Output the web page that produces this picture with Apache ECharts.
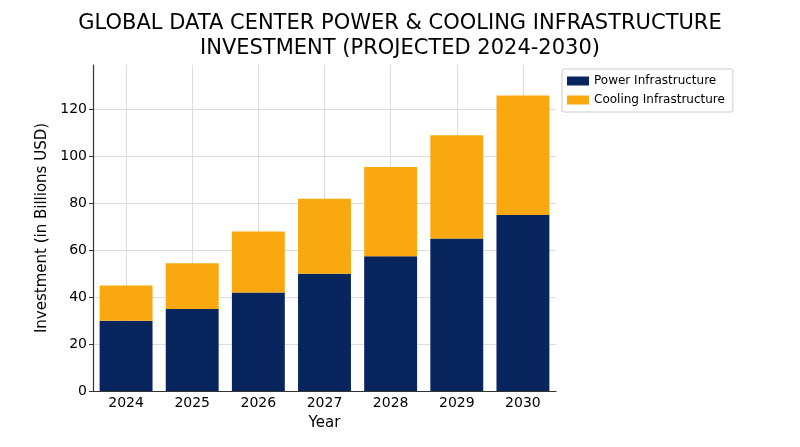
<!DOCTYPE html>
<html>
<head>
<meta charset="utf-8">
<script src="https://cdn.jsdelivr.net/npm/echarts@6/dist/echarts.min.js"></script>
<style>
  html, body { margin: 0; padding: 0; background: #fff; }
  #chart { width: 800px; height: 447px; }
</style>
</head>
<body>
<div id="chart"></div>
<script>
var years = ['2024', '2025', '2026', '2027', '2028', '2029', '2030'];
var powerInvest = [30, 35, 42, 50, 57.5, 65, 75];
var coolingInvest = [15, 19.5, 26, 32, 38, 44, 51];
var yTicks = [0, 20, 40, 60, 80, 100, 120];

var font = 'DejaVu Sans';
var chart = echarts.init(document.getElementById('chart'));

chart.setOption({
    animation: false,
    textStyle: { fontFamily: font },
    title: {
        text: 'GLOBAL DATA CENTER POWER & COOLING INFRASTRUCTURE\nINVESTMENT (PROJECTED 2024-2030)',
        left: 'center',
        top: 6,
        textStyle: { fontFamily: font, fontSize: 21, fontWeight: 'normal', color: '#000', lineHeight: 25 }
    },
    legend: {
        orient: 'vertical',
        left: 562,
        top: 69,
        icon: 'rect',
        itemWidth: 22,
        itemHeight: 9,
        itemGap: 7,
        padding: [6, 8, 6, 5],
        borderColor: '#ccc',
        borderWidth: 1,
        borderRadius: 2,
        textStyle: { fontFamily: font, fontSize: 12, color: '#000' },
        data: ['Power Infrastructure', 'Cooling Infrastructure']
    },
    grid: { left: 93, right: 244, top: 65, bottom: 56 },
    xAxis: {
        type: 'category',
        data: years,
        name: 'Year',
        nameLocation: 'middle',
        nameGap: 25,
        nameTextStyle: { fontFamily: font, fontSize: 15, color: '#000' },
        axisLine: { lineStyle: { color: '#333', width: 1.2 } },
        axisTick: { alignWithLabel: true, length: 4, lineStyle: { color: '#333' } },
        axisLabel: { fontFamily: font, fontSize: 14, color: '#000', margin: 5 },
        splitLine: { show: false }
    },
    yAxis: {
        type: 'value',
        min: 0,
        max: 139,
        interval: 20,
        name: 'Investment (in Billions USD)',
        nameLocation: 'middle',
        nameGap: 39,
        nameTextStyle: { fontFamily: font, fontSize: 15, color: '#000' },
        axisLine: { show: true, lineStyle: { color: '#333', width: 1.2 } },
        axisTick: { show: true, length: 4, customValues: yTicks, lineStyle: { color: '#333' } },
        axisLabel: {
            fontFamily: font, fontSize: 14, color: '#000', margin: 6,
            customValues: yTicks
        },
        splitLine: { lineStyle: { color: '#ddd' } }
    },
    series: [
        {
            // vertical grid lines through the category centres
            name: 'grid',
            type: 'line',
            data: [],
            z: 0,
            silent: true,
            markLine: {
                silent: true,
                z: 0,
                symbol: 'none',
                label: { show: false },
                lineStyle: { color: '#ddd', type: 'solid', width: 1 },
                data: years.map(function (y) { return { xAxis: y }; })
            }
        },
        {
            name: 'Power Infrastructure',
            type: 'bar',
            stack: 'total',
            barWidth: '80%',
            z: 2,
            itemStyle: { color: '#08255e' },
            data: powerInvest
        },
        {
            name: 'Cooling Infrastructure',
            type: 'bar',
            stack: 'total',
            barWidth: '80%',
            z: 2,
            itemStyle: { color: '#f9a90f' },
            data: coolingInvest
        }
    ]
});
</script>
</body>
</html>
